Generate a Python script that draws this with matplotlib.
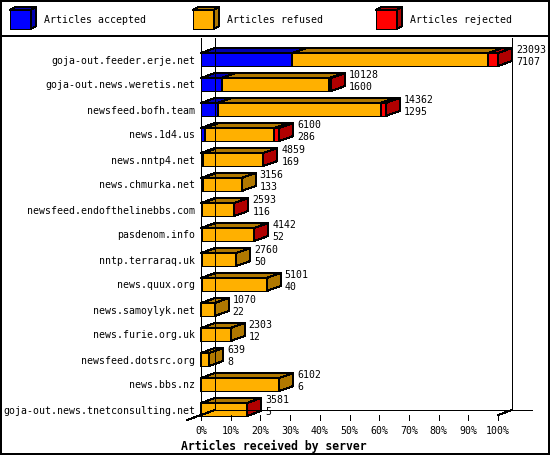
import numpy as np
import matplotlib
matplotlib.use("Agg")
import matplotlib.pyplot as plt
from matplotlib.patches import Polygon, Rectangle

# data
servers = [
    "goja-out.feeder.erje.net",
    "goja-out.news.weretis.net",
    "newsfeed.bofh.team",
    "news.1d4.us",
    "news.nntp4.net",
    "news.chmurka.net",
    "newsfeed.endofthelinebbs.com",
    "pasdenom.info",
    "nntp.terraraq.uk",
    "news.quux.org",
    "news.samoylyk.net",
    "news.furie.org.uk",
    "newsfeed.dotsrc.org",
    "news.bbs.nz",
    "goja-out.news.tnetconsulting.net",
]
received = [23093, 10128, 14362, 6100, 4859, 3156, 2593, 4142, 2760, 5101, 1070, 2303, 639, 6102, 3581]
accepted = [7107, 1600, 1295, 286, 169, 133, 116, 52, 50, 40, 22, 12, 8, 6, 5]
rejected = [760, 150, 390, 410, 20, 0, 25, 25, 0, 0, 0, 0, 0, 0, 15]
tick_pcts = [0, 10, 20, 30, 40, 50, 60, 70, 80, 90, 100]
tick_labels = ["%d%%" % t for t in tick_pcts]

series_names = ["Articles accepted", "Articles refused", "Articles rejected"]
front_colors = ["#0000ff", "#ffb000", "#ff0000"]
dark_colors = ["#0000b0", "#b07800", "#b00000"]

FONT = "DejaVu Sans Mono"
FS = 7.1
LW = 0.72
AA = False
DX = 4.7    # depth offset in percent units
DY = 0.2    # depth offset in rows
H = 0.26    # half height of a bar front

received = np.array(received, dtype=float)
accepted = np.array(accepted, dtype=float)
rejected = np.array(rejected, dtype=float)
refused = received - accepted - rejected
scale = 100.0 / received.max()
segments = [accepted * scale, refused * scale, rejected * scale]

fig = plt.figure(figsize=(5.5, 4.55), dpi=100)

# pixel-space overlay for frame and legend
lax = fig.add_axes([0, 0, 1, 1])
lax.set_xlim(0, 550)
lax.set_ylim(455, 0)
lax.axis("off")
lax.add_patch(Rectangle((0.5, 0.5), 548.5, 453.5, fill=False, ec="black", lw=1.4, antialiased=AA))
lax.plot([0, 550], [36, 36], color="black", lw=1.4, antialiased=AA)

for i, name in enumerate(series_names):
    x0 = 10 + 183 * i
    front = Rectangle((x0, 10), 21, 19, fc=front_colors[i], ec="black", lw=LW, antialiased=AA)
    top = Polygon([(x0, 10), (x0 + 21, 10), (x0 + 26, 7), (x0 + 5, 7)],
                  fc=dark_colors[i], ec="black", lw=LW, antialiased=AA)
    side = Polygon([(x0 + 21, 10), (x0 + 26, 7), (x0 + 26, 26), (x0 + 21, 29)],
                   fc=dark_colors[i], ec="black", lw=LW, antialiased=AA)
    for p in (front, top, side):
        lax.add_patch(p)
    lax.text(x0 + 34, 20, name, family=FONT, fontsize=FS, va="center", ha="left")

# chart axes: x in percent, y in rows
ax = fig.add_axes([0, 0, 1, 1])
ax.set_xlim(-201 / 2.97, (550 - 201) / 2.97)
ax.set_ylim((455 - 59.5) / 25, -59.5 / 25)
ax.axis("off")
ax.patch.set_alpha(0)

n = len(servers)
top_r = -0.86
back_floor = (410 - 59.5) / 25
front_floor = back_floor + DY

# walls and floor lines
line_kw = dict(color="black", lw=LW, antialiased=AA)
ax.plot([0, 0], [top_r, front_floor + DY], **line_kw)
ax.plot([DX, DX], [top_r, back_floor], **line_kw)
ax.plot([100 + DX, 100 + DX], [top_r, back_floor], **line_kw)
ax.plot([DX, 111.4], [back_floor, back_floor], **line_kw)
ax.plot([DX, -DX], [back_floor, back_floor + 2 * DY], **line_kw)
ax.plot([100, 100 + DX], [front_floor, back_floor], **line_kw)

for t, lab in zip(tick_pcts, tick_labels):
    ax.plot([t, t], [front_floor, front_floor + DY], **line_kw)
    ax.text(t, front_floor + 0.66, lab, family=FONT, fontsize=FS, ha="center", va="center")

# bars
for r in range(n):
    left = 0.0
    for k in range(3):
        w = segments[k][r]
        if w <= 0:
            continue
        right = left + w
        front = Rectangle((left, r - H), w, 2 * H, fc=front_colors[k], ec="black", lw=LW, antialiased=AA)
        top = Polygon([(left, r - H), (right, r - H), (right + DX, r - H - DY), (left + DX, r - H - DY)],
                      fc=dark_colors[k], ec="black", lw=LW, antialiased=AA)
        side = Polygon([(right, r - H), (right + DX, r - H - DY), (right + DX, r + H - DY), (right, r + H)],
                       fc=dark_colors[k], ec="black", lw=LW, antialiased=AA)
        for p in (front, top, side):
            ax.add_patch(p)
        left = right
    end = received[r] * scale + DX + 1.35
    ax.text(end, r - 0.38, "%d" % received[r], family=FONT, fontsize=FS, ha="left", va="center")
    ax.text(end, r + 0.1, "%d" % accepted[r], family=FONT, fontsize=FS, ha="left", va="center")
    ax.text(-2.0, r + 0.04, servers[r], family=FONT, fontsize=FS, ha="right", va="center")

fig.text(274 / 550, 1 - 446 / 455, "Articles received by server", family=FONT,
         fontsize=8.3, fontweight="bold", ha="center", va="center")

fig.savefig("out.png", dpi=100)
